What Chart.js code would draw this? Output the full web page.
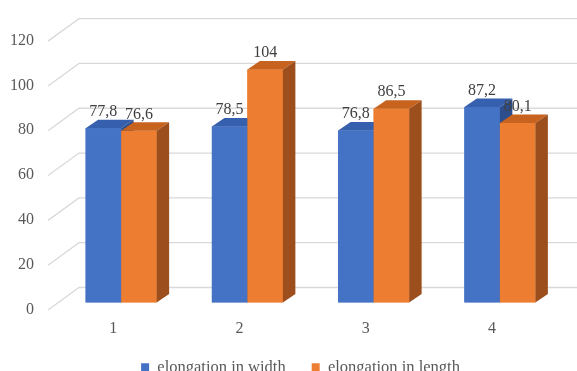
<!DOCTYPE html>
<html>
<head>
<meta charset="utf-8">
<script src="https://cdn.jsdelivr.net/npm/chart.js@4/dist/chart.umd.min.js"></script>
<style>
  body { margin: 0; background: #fff; }
  canvas { display: block; }
</style>
</head>
<body>
<canvas id="elongationChart" width="577" height="371"></canvas>
<script>
const categories = ['1', '2', '3', '4'];
const widthValues = [77.8, 78.5, 76.8, 87.2];
const lengthValues = [76.6, 104, 86.5, 80.1];
const seriesNames = ['elongation in width', 'elongation in length'];

// front / top / side shades for each series
const faceColors = [
    { front: '#4472C4', top: '#3660AE', side: '#2D4E8C' },
    { front: '#ED7D31', top: '#C8631F', side: '#9C4F1D' }
];

// oblique depth of the bars and of the floor behind them
const barDepth = { dx: 12.5, dy: -8.5 };
const wallDepth = { dx: 21, dy: -15 };
const floorFront = { dx: -10, dy: 7.5 };

const gridPlugin = {
    id: 'backWall',
    afterLayout(chart) {
        // legend sits a bit higher and further left than the default layout puts it
        const legend = chart.legend;
        legend.top -= 9;
        legend.bottom = chart.height;
        legend.height = legend.bottom - legend.top;
        legend.left -= 10;
        legend.right -= 10;
    },
    beforeDatasetsDraw(chart) {
        const ctx = chart.ctx;
        const yScale = chart.scales.y;
        const left = chart.chartArea.left;
        ctx.save();
        ctx.strokeStyle = '#D9D9D9';
        ctx.lineWidth = 1.3;
        yScale.ticks.forEach(tick => {
            const y = yScale.getPixelForValue(tick.value);
            ctx.beginPath();
            ctx.moveTo(left + floorFront.dx, y + floorFront.dy);
            ctx.lineTo(left + wallDepth.dx, y + wallDepth.dy);
            ctx.lineTo(chart.width, y + wallDepth.dy);
            ctx.stroke();
        });
        ctx.restore();
    }
};

function drawBox(ctx, bar, colors) {
    const left = bar.x - bar.width / 2;
    const right = bar.x + bar.width / 2;
    const top = bar.y;
    const base = bar.base;

    bar.draw(ctx);

    ctx.fillStyle = colors.top;
    ctx.beginPath();
    ctx.moveTo(left, top);
    ctx.lineTo(right, top);
    ctx.lineTo(right + barDepth.dx, top + barDepth.dy);
    ctx.lineTo(left + barDepth.dx, top + barDepth.dy);
    ctx.closePath();
    ctx.fill();

    ctx.fillStyle = colors.side;
    ctx.beginPath();
    ctx.moveTo(right, top);
    ctx.lineTo(right + barDepth.dx, top + barDepth.dy);
    ctx.lineTo(right + barDepth.dx, base + barDepth.dy);
    ctx.lineTo(right, base);
    ctx.closePath();
    ctx.fill();
}

const boxPlugin = {
    id: 'barBoxes',
    afterDatasetsDraw(chart) {
        const ctx = chart.ctx;
        const metas = chart.data.datasets.map((ds, i) => chart.getDatasetMeta(i));
        ctx.save();
        // repaint category by category, left series first, so hidden sides get covered
        categories.forEach((cat, j) => {
            metas.forEach((meta, i) => drawBox(ctx, meta.data[j], faceColors[i]));
        });

        ctx.font = '16px "Liberation Serif"';
        ctx.fillStyle = '#404040';
        ctx.textAlign = 'center';
        ctx.textBaseline = 'middle';
        chart.data.datasets.forEach((ds, i) => {
            metas[i].data.forEach((bar, j) => {
                const text = String(ds.data[j]).replace('.', ',');
                ctx.fillText(text, bar.x, bar.y - 16.5);
            });
        });
        ctx.restore();
    }
};

Chart.defaults.font.family = '"Liberation Serif", "Times New Roman", serif';
Chart.defaults.font.size = 16;
Chart.defaults.color = '#595959';

const ctx = document.getElementById('elongationChart').getContext('2d');
const elongationChart = new Chart(ctx, {
    type: 'bar',
    data: {
        labels: categories,
        datasets: [{
            label: seriesNames[0],
            data: widthValues,
            backgroundColor: faceColors[0].front,
            borderWidth: 0
        }, {
            label: seriesNames[1],
            data: lengthValues,
            backgroundColor: faceColors[1].front,
            borderWidth: 0
        }]
    },
    options: {
        responsive: false,
        animation: false,
        devicePixelRatio: 1,
        categoryPercentage: 0.5625,
        barPercentage: 1,
        layout: {
            padding: { top: 30.5, right: 14, bottom: 0, left: 0 }
        },
        plugins: {
            tooltip: { enabled: false },
            legend: {
                position: 'bottom',
                fullSize: false,
                maxHeight: 29,
                labels: {
                    boxWidth: 8,
                    boxHeight: 8,
                    padding: 26,
                    color: '#595959',
                    font: { size: 16.5 }
                }
            }
        },
        scales: {
            x: {
                grid: { display: false, drawTicks: false },
                border: { display: false },
                ticks: { padding: 17, labelOffset: -8 },
                afterFit(scale) { scale.height = 39.5; }
            },
            y: {
                min: 0,
                max: 120,
                grid: { display: false, drawTicks: false },
                border: { display: false },
                ticks: { stepSize: 20, padding: 24, labelOffset: 7 },
                afterFit(scale) { scale.width = 58; }
            }
        }
    },
    plugins: [gridPlugin, boxPlugin]
});
</script>
</body>
</html>
